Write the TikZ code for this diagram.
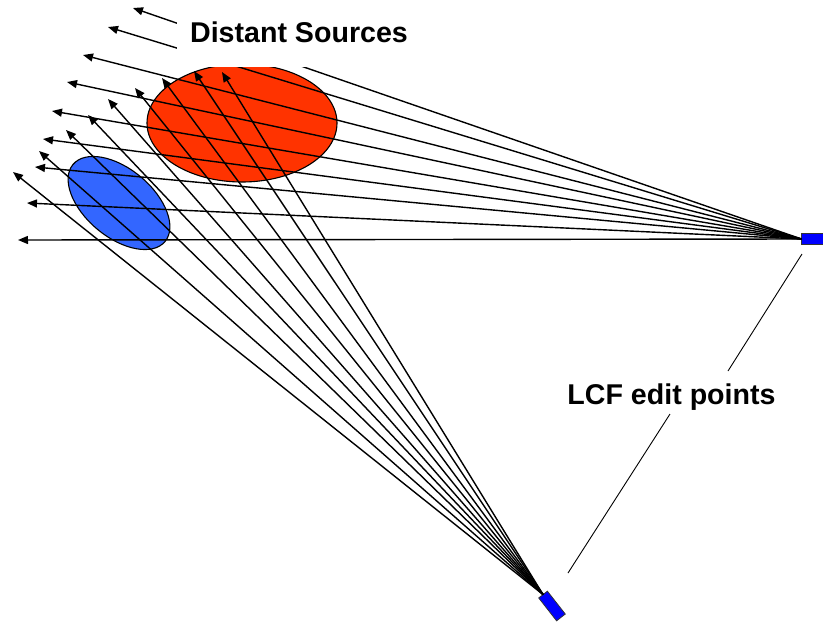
\documentclass[tikz,border=0pt]{standalone}
\usepackage{fontspec}
\setmainfont{Liberation Sans}
\usetikzlibrary{arrows.meta,shapes.geometric}
\definecolor{redsrc}{RGB}{255,51,0}
\definecolor{bluesrc}{RGB}{51,102,255}
\definecolor{sensorblue}{RGB}{0,0,255}
\begin{document}
\begin{tikzpicture}[x=1pt,y=-1pt,
  ray/.style={line width=1.4pt,-{Triangle[length=10pt,width=8pt]}},
  leader/.style={line width=0.9pt},
  sensor/.style={draw=black!80,line width=0.8pt,fill=sensorblue,minimum width=29pt,minimum height=11pt,inner sep=0pt,outer sep=0pt},
  srcblob/.style={ellipse,draw,line width=1.1pt,inner sep=0pt,outer sep=0pt},
  lbl/.style={font=\bfseries\fontsize{28.6}{34}\selectfont,inner sep=0pt}]
\useasboundingbox (0,0) rectangle (823,622);
\begin{scope}
\clip (0,0) rectangle (823,622);
% sources
\node[srcblob,fill=redsrc,minimum width=190pt,minimum height=118pt] (red) at (242,123) {};
\node[srcblob,fill=bluesrc,minimum width=120pt,minimum height=68pt,rotate=-40] (blue) at (119,203) {};
% sensors
\node[sensor] (rs) at (816,239) {};
\node[sensor,rotate=-52] (bs) at (552,606) {};
% rays from the right sensor
\foreach \x/\y [count=\i] in {18/240,27/203,35/167,43/139,52/111,67/82,83/55,108/27,133/8}{
  \coordinate (rt\i) at (\x,\y);
  \draw[ray] (rs.west) -- (rt\i);
}
% rays from the bottom sensor
\foreach \x/\y [count=\i] in {13/172,39/151,66/130,88/115,108/99,135/88,162/78,194/71,222/72}{
  \coordinate (bt\i) at (\x,\y);
  \draw[ray] (bs.west) -- (bt\i);
}
% white backing of the title
\fill[white] (177,-2) rectangle (420,67);
\node[lbl,anchor=base] (src) at (299,42) {Distant Sources};
\node[lbl,anchor=base] (lcf) at (671.5,404) {LCF edit points};
% leader lines
\coordinate (la1) at (802,254);
\coordinate (la2) at (728,371);
\coordinate (lb1) at (670,414);
\coordinate (lb2) at (568,573);
\draw[leader] (la1) -- (la2);
\draw[leader] (lb1) -- (lb2);
\end{scope}
\end{tikzpicture}
\end{document}
